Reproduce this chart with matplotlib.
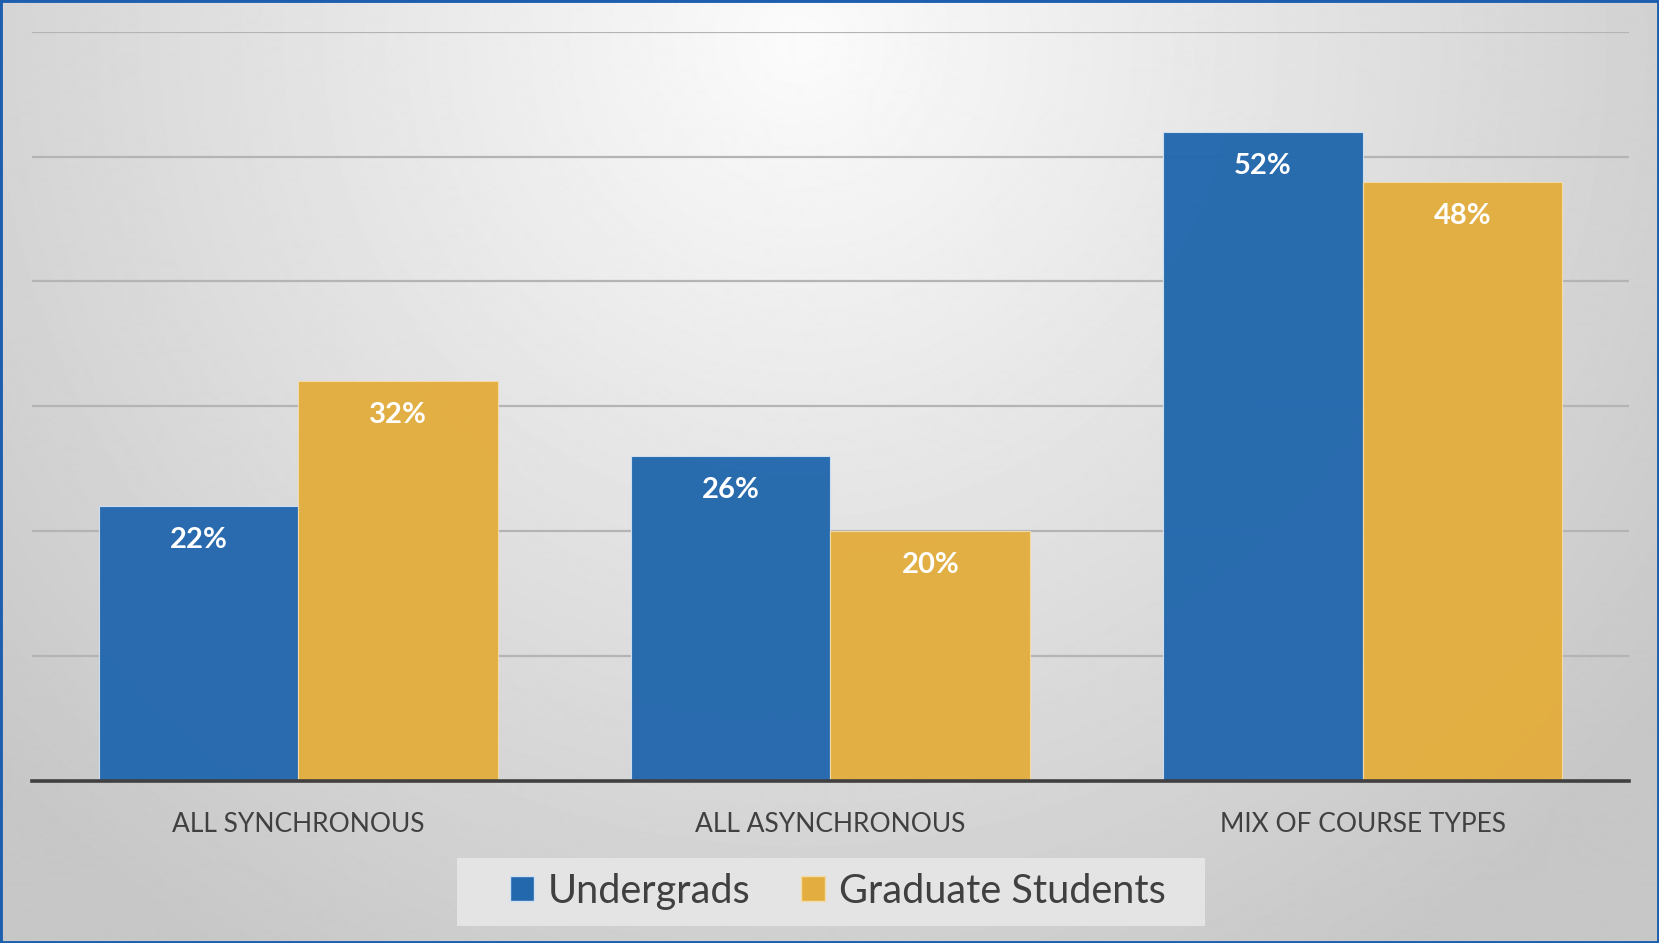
"""Undergrads vs graduate students: preferred course format (clustered bars)."""
import matplotlib
matplotlib.use("Agg")
import matplotlib.pyplot as plt
import numpy as np
from matplotlib.patches import Patch

categories = ["ALL SYNCHRONOUS", "ALL ASYNCHRONOUS", "MIX OF COURSE TYPES"]
undergrads = [22, 26, 52]
grads = [32, 20, 48]
series_names = ["Undergrads", "Graduate Students"]

BLUE = "#2368ad"
GOLD = "#e3ae3f"
TEXT = "#404040"

plt.rcParams["font.family"] = ["Lato", "DejaVu Sans"]

W, H = 1659, 943
fig = plt.figure(figsize=(W / 100, H / 100), dpi=100)

# radial grey background, brightest near top centre
bg = fig.add_axes([0, 0, 1, 1], zorder=-10)
yy, xx = np.mgrid[0:H, 0:W]
r = np.sqrt(((xx - 800) / 1000.0) ** 2 + ((yy - 40) / 1000.0) ** 2)
shade = np.clip(0.985 - 0.19 * r, 0.78, 1.0)
bg.imshow(shade, cmap="gray", vmin=0, vmax=1, aspect="auto", interpolation="bilinear")
bg.set_axis_off()
# blue frame
bg.add_patch(plt.Rectangle((0, 0), W - 1, H - 1, fill=False, edgecolor="#1d5fae", lw=3.5))
# legend panel
bg.add_patch(plt.Rectangle((457, 857), 747, 68, facecolor="#e4e4e4", edgecolor="none"))
bg.set_xlim(0, W - 1)
bg.set_ylim(H - 1, 0)

ax = fig.add_axes([32 / W, 1 - 781 / H, 1597 / W, (781 - 31.7) / H])
ax.patch.set_alpha(0)

x = np.arange(len(categories))
bw = 0.375
b1 = ax.bar(x - bw / 2, undergrads, bw, color=BLUE, alpha=0.97,
            edgecolor="#cfe0f2", linewidth=0.8, zorder=2)
b2 = ax.bar(x + bw / 2, grads, bw, color=GOLD, alpha=0.97,
            edgecolor="#f3dca8", linewidth=0.8, zorder=2)

for bars in (b1, b2):
    for rect in bars:
        ax.annotate(f"{rect.get_height():.0f}%",
                    (rect.get_x() + rect.get_width() / 2, rect.get_height()),
                    xytext=(0, -24.5), textcoords="offset points",
                    ha="center", va="center", color="white",
                    fontsize=21, fontweight="bold", zorder=3)

ax.set_xlim(-0.5, 2.5)
ax.set_ylim(0, 60)
ax.set_yticks(range(10, 61, 10))
ax.yaxis.grid(True, color="#b4b4b4", lw=1.6, zorder=1)
ax.set_axisbelow(True)
ax.tick_params(axis="y", left=False, labelleft=False)
ax.set_xticks(x)
ax.set_xticklabels(categories, fontsize=19, color=TEXT)
ax.tick_params(axis="x", length=0, pad=22.5)
for side in ("top", "right", "left"):
    ax.spines[side].set_visible(False)
ax.spines["bottom"].set_color("#404040")
ax.spines["bottom"].set_linewidth(2.6)

handles = [Patch(facecolor=BLUE, edgecolor="#cfe0f2"), Patch(facecolor=GOLD, edgecolor="#f3dca8")]
leg = fig.legend(handles, series_names, loc="center", bbox_to_anchor=(0.505, 0.055),
                 ncol=2, fontsize=28.5, frameon=False,
                 handlelength=0.6, handleheight=0.6, handletextpad=0.35,
                 columnspacing=1.3, labelcolor=TEXT)

fig.savefig("out.png", dpi=100)
